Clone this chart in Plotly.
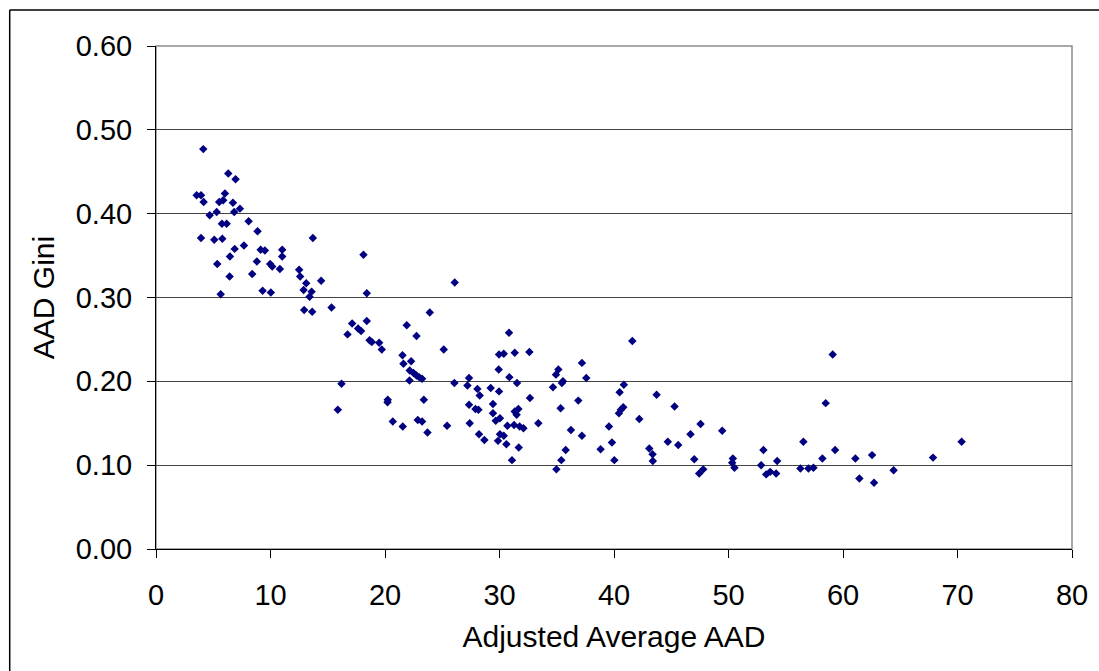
import plotly.graph_objects as go

# Adjusted Average AAD vs AAD Gini
avg_aad = [
    4.13, 6.31, 6.95, 3.55, 3.93, 4.16, 6.02, 5.52, 5.87, 6.72,
    6.83, 7.33, 4.69, 5.30, 5.76, 6.17, 8.09, 8.87, 3.93, 5.09,
    5.79, 13.70, 6.87, 7.68, 6.46, 9.14, 9.51, 11.02, 11.02, 8.81,
    5.35, 9.97, 10.15, 10.82, 12.50, 12.59, 6.43, 8.40, 13.12, 14.42,
    12.89, 13.59, 13.41, 9.31, 10.03, 5.65, 15.33, 12.94, 13.64,
    18.12, 26.09, 18.41, 23.91, 17.13, 18.41, 17.65, 17.91, 21.90, 16.73,
    18.65, 18.85, 19.49, 19.72, 22.75, 25.13, 21.53, 22.28, 21.61, 22.16,
    22.49, 22.75, 22.98, 23.24, 22.14, 16.20, 26.06, 27.34, 27.20, 28.07,
    28.27, 20.24, 20.22, 23.39, 15.88, 27.34, 27.90, 28.16, 20.68, 21.55,
    22.86, 23.24, 23.71, 25.42, 27.40, 28.21,
    30.83, 29.96, 30.37, 31.33, 32.61, 41.60, 29.93, 30.86, 31.53, 29.23,
    29.96, 29.43, 29.43, 30.04, 29.67, 32.66, 31.33, 31.65, 31.50, 30.69,
    31.27, 31.76, 32.09, 33.39, 28.68, 30.04, 30.37, 29.87, 30.60, 31.68,
    31.09, 34.67, 34.93, 35.14, 35.45, 35.54, 37.20, 37.58, 36.88, 35.34,
    36.24, 37.20, 35.78, 35.40, 34.97, 40.86, 40.49, 40.81, 40.60, 40.43,
    42.21, 39.56, 39.82, 38.83, 40.03,
    43.72, 45.29, 43.08, 43.37, 43.39, 44.70, 45.61, 46.68, 47.56, 47.01,
    47.44, 47.79, 49.45, 50.38, 50.32, 50.52, 53.05, 52.85, 53.29, 53.64,
    54.16, 54.25, 56.54, 56.28, 56.98, 57.42, 58.20, 59.10, 58.49, 59.31,
    61.08, 61.43, 62.54, 62.71, 64.42, 67.86, 70.36,
]
aad_gini = [
    0.477, 0.448, 0.441, 0.422, 0.422, 0.414, 0.424, 0.414, 0.416, 0.413,
    0.402, 0.406, 0.398, 0.402, 0.388, 0.388, 0.391, 0.379, 0.371, 0.369,
    0.370, 0.371, 0.358, 0.362, 0.349, 0.357, 0.356, 0.357, 0.349, 0.343,
    0.340, 0.340, 0.337, 0.334, 0.333, 0.325, 0.325, 0.328, 0.317, 0.320,
    0.309, 0.307, 0.301, 0.308, 0.306, 0.304, 0.288, 0.285, 0.283,
    0.351, 0.318, 0.305, 0.282, 0.269, 0.272, 0.263, 0.260, 0.267, 0.256,
    0.249, 0.247, 0.246, 0.238, 0.254, 0.238, 0.231, 0.224, 0.221, 0.213,
    0.210, 0.207, 0.205, 0.203, 0.201, 0.197, 0.198, 0.204, 0.195, 0.191,
    0.183, 0.178, 0.175, 0.178, 0.166, 0.172, 0.167, 0.166, 0.152, 0.146,
    0.154, 0.152, 0.139, 0.147, 0.150, 0.137,
    0.258, 0.232, 0.233, 0.234, 0.235, 0.248, 0.214, 0.205, 0.198, 0.192,
    0.188, 0.173, 0.162, 0.156, 0.153, 0.180, 0.164, 0.167, 0.160, 0.147,
    0.148, 0.146, 0.144, 0.150, 0.130, 0.137, 0.135, 0.129, 0.125, 0.121,
    0.106, 0.193, 0.208, 0.214, 0.198, 0.200, 0.222, 0.204, 0.177, 0.168,
    0.142, 0.135, 0.118, 0.106, 0.095, 0.196, 0.187, 0.169, 0.166, 0.162,
    0.155, 0.146, 0.127, 0.119, 0.106,
    0.184, 0.170, 0.120, 0.113, 0.105, 0.128, 0.124, 0.137, 0.149, 0.107,
    0.090, 0.095, 0.141, 0.108, 0.103, 0.097, 0.118, 0.100, 0.089, 0.092,
    0.090, 0.105, 0.128, 0.096, 0.096, 0.097, 0.108, 0.232, 0.174, 0.118,
    0.108, 0.084, 0.112, 0.079, 0.094, 0.109, 0.128,
]

x_ticks = [0, 10, 20, 30, 40, 50, 60, 70, 80]
y_ticks = [0.0, 0.1, 0.2, 0.3, 0.4, 0.5, 0.6]

fig = go.Figure()
fig.add_trace(go.Scatter(
    x=avg_aad,
    y=aad_gini,
    mode="markers",
    marker=dict(symbol="diamond", size=6.5, color="#000080", line=dict(width=0)),
    showlegend=False,
))

fig.update_layout(
    width=1099,
    height=671,
    margin=dict(l=156, r=27, t=46, b=122, autoexpand=False),
    paper_bgcolor="white",
    plot_bgcolor="white",
    font=dict(family="Liberation Sans, Arial, sans-serif", size=29, color="black"),
    xaxis=dict(
        range=[0, 80],
        tickvals=x_ticks,
        ticks="outside",
        ticklen=8,
        tickcolor="black",
        ticklabelstandoff=12,
        showline=True,
        linecolor="black",
        linewidth=1,
        showgrid=False,
        zeroline=False,
        title=dict(text="Adjusted Average AAD", font=dict(size=30), standoff=16),
    ),
    yaxis=dict(
        range=[0, 0.6],
        tickvals=y_ticks,
        tickformat=".2f",
        ticks="outside",
        ticklen=8,
        tickcolor="black",
        ticklabelstandoff=9,
        showline=True,
        linecolor="black",
        linewidth=1,
        showgrid=True,
        gridcolor="#444444",
        gridwidth=1,
        zeroline=False,
        title=dict(text="AAD Gini", font=dict(size=30), standoff=12),
    ),
    shapes=[
        # grey plot-area border (top and right)
        dict(type="rect", xref="paper", yref="paper", x0=0, y0=0, x1=1, y1=1,
             line=dict(color="#8c8c8c", width=1.5), layer="below"),
        # outer chart frame: only its top and left edges are in view
        dict(type="line", xref="paper", yref="paper", x0=-0.1597, y0=1.0716,
             x1=1.1, y1=1.0716, line=dict(color="black", width=1.5)),
        dict(type="line", xref="paper", yref="paper", x0=-0.1597, y0=1.0716,
             x1=-0.1597, y1=-0.3, line=dict(color="black", width=1.5)),
    ],
)

# drop the default page margin so the figure sits flush in the window
fig.write_html(
    "out.html",
    config={"displayModeBar": False},
    post_script="document.body.style.margin='0';document.body.style.overflow='hidden';",
)
